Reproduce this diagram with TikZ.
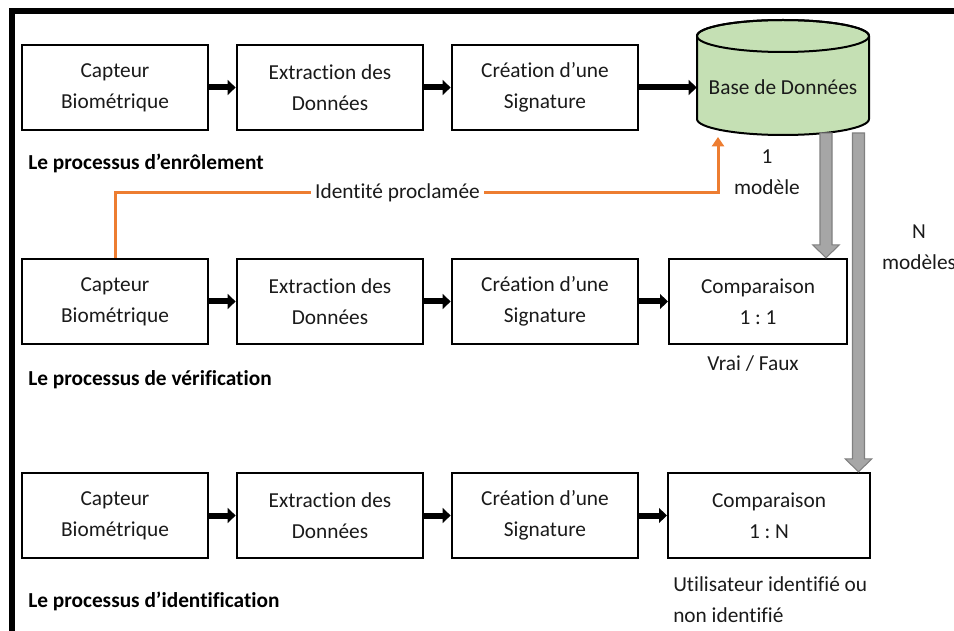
\documentclass[tikz,border=0pt]{standalone}
\usepackage{fontspec}
\setmainfont{Carlito}[Ligatures={NoCommon}]
\usetikzlibrary{arrows.meta,calc}
\definecolor{dbgreen}{HTML}{C5E0B4}
\definecolor{orng}{HTML}{ED7D31}
\definecolor{grA}{HTML}{A6A6A6}
\definecolor{grB}{HTML}{808080}
\definecolor{txt}{HTML}{1A1A1A}
\tikzset{
  box/.style={draw=black, line width=1.5pt, minimum width=140pt, minimum height=64pt, align=center, inner sep=0pt, text=txt},
  flow/.style={line width=4.5pt, -{Triangle[width=11pt,length=6pt]}},
  lbl/.style={font=\bfseries, anchor=west, inner sep=0pt, text=black},
  note/.style={align=center, inner sep=0pt, text=txt},
  oline/.style={draw=orng, line width=2.25pt},
}
\newcommand{\grarrow}[2]{\filldraw[fill=grA, draw=grB, line width=0.8pt] let \p1=(#1), \p2=(#2) in
  (\x1-4.5pt,\y1) -- (\x1-4.5pt,\y2+9.75pt) -- (\x1-10pt,\y2+9.75pt) -- (\x1,\y2) -- (\x1+10pt,\y2+9.75pt) -- (\x1+4.5pt,\y2+9.75pt) -- (\x1+4.5pt,\y1) -- cycle;}
\frenchspacing
\begin{document}
\begin{tikzpicture}[x=0.75pt,y=-0.75pt]
\fontsize{16}{23.25}\selectfont
\useasboundingbox (0,0) rectangle (954,631);
% frame
\draw[line width=4.5pt] (12,640) -- (12,11) -- (970,11);
% row 1
\node[box] (ecap) at (115,87.5) {Capteur\\Biométrique};
\node[box] (eext) at (330,87.5) {Extraction des\\Données};
\node[box] (esig) at (545,87.5) {Création d’une\\Signature};
% cylinder
\draw[fill=dbgreen, line width=1.5pt] (697,36) -- (697,119) arc[start angle=180,end angle=360,x radius=64.5pt,y radius=12pt] -- (869,36) arc[start angle=0,end angle=180,x radius=64.5pt,y radius=12pt] -- cycle;
\draw[line width=1.5pt] (783,36) ellipse[x radius=64.5pt, y radius=12pt];
\node[inner sep=0pt, minimum width=129pt, minimum height=40pt, text=txt] (db) at (783,87.5) {Base de Données};
\draw[flow] (ecap) -- (eext);
\draw[flow] (eext) -- (esig);
\draw[flow] (esig) -- (db);
\node[lbl] (elbl) at (28,163) {Le processus d’enrôlement};
% row 2
\node[box] (vcap) at (115,301.5) {Capteur\\Biométrique};
\node[box] (vext) at (330,301.5) {Extraction des\\Données};
\node[box] (vsig) at (545,301.5) {Création d’une\\Signature};
\node[box, minimum width=133.5pt] (vcmp) at (758,301.5) {Comparaison\\1 : 1};
\draw[flow] (vcap) -- (vext);
\draw[flow] (vext) -- (vsig);
\draw[flow] (vsig) -- (vcmp);
\node[lbl] (vlbl) at (28,380) {Le processus de vérification};
\node[note] (vres) at (753,364) {Vrai / Faux};
% row 3
\node[box] (icap) at (115,515.5) {Capteur\\Biométrique};
\node[box] (iext) at (330,515.5) {Extraction des\\Données};
\node[box] (isig) at (545,515.5) {Création d’une\\Signature};
\node[box, minimum width=151.5pt] (icmp) at (769,515.5) {Comparaison\\1 : N};
\draw[flow] (icap) -- (iext);
\draw[flow] (iext) -- (isig);
\draw[flow] (isig) -- (icmp);
\node[lbl] (ilbl) at (28,601) {Le processus d’identification};
\node[note, align=left, anchor=west] (ires) at (673,600) {Utilisateur identifié ou\\non identifié};
% claimed identity
\node[note, fill=white, inner sep=3pt] (idp) at (397.5,193) {Identité proclamée};
\coordinate (dbin) at (718,137);
\draw[oline] (vcap.north) |- (idp.west);
\draw[oline, -{Triangle[width=9pt,length=7pt]}] (idp.east) -| (dbin);
% gray arrows
\coordinate (g1) at (826,133);
\coordinate (g2) at (858.5,133);
\grarrow{g1}{g1 |- vcmp.north}
\grarrow{g2}{g2 |- icmp.north}
\node[note] (one) at (767,172) {1\\modèle};
\node[note] (many) at (919,247.5) {N\\modèles};
\end{tikzpicture}
\end{document}
